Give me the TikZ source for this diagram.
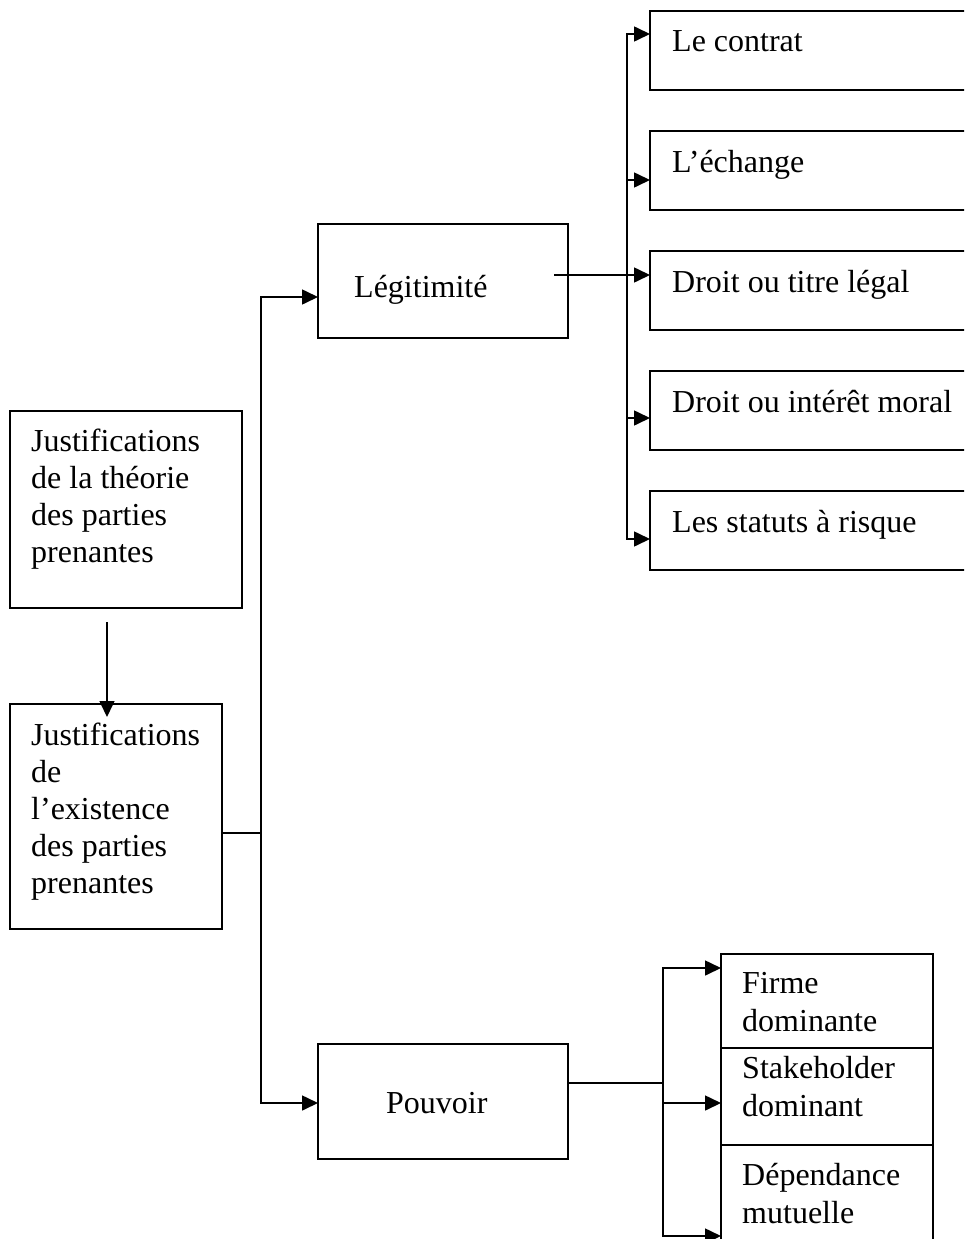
\documentclass[tikz,border=0pt]{standalone}
\usepackage{fontspec}
\setmainfont{Liberation Serif}
\usetikzlibrary{arrows.meta,calc}
\newcommand{\mlines}[1]{\begin{tabular}[t]{@{}l@{}}#1\end{tabular}}
\begin{document}
\begin{tikzpicture}[x=1pt,y=-1pt,
  box/.style={draw, line width=1.5pt, inner sep=0pt, outer sep=0pt, anchor=north west},
  txt/.style={inner sep=0pt, anchor=base west, font=\fontsize{32}{37}\selectfont},
  txtr/.style={inner sep=0pt, anchor=base west, font=\fontsize{32}{38.5}\selectfont},
  conn/.style={line width=1.6pt},
  arr/.style={conn, -{Triangle[length=16pt,width=15pt]}}]
\useasboundingbox (0,0) rectangle (964,1239);
\clip (0,0) rectangle (964,1239);

% left boxes
\node[box, minimum width=232pt, minimum height=197pt] (A) at (10,411) {};
\node[txt] (At) at (31,451) {\mlines{Justifications\\de la théorie\\des parties\\prenantes}};
\node[box, minimum width=212pt, minimum height=225pt] (B) at (10,704) {};
\node[txt] (Bt) at (31,745) {\mlines{Justifications\\de\\l’existence\\des parties\\prenantes}};

% middle boxes
\node[box, minimum width=250pt, minimum height=114pt] (leg) at (318,224) {};
\node[txt] (legt) at (354,297) {Légitimité};
\node[box, minimum width=250pt, minimum height=115pt] (pouv) at (318,1044) {};
\node[txt] (pouvt) at (386,1113) {Pouvoir};

% right top boxes
\node[box, minimum width=340pt, minimum height=79pt] (r1) at (650,11) {};
\node[txt] (r1t) at (672,52) {Le contrat};
\node[box, minimum width=340pt, minimum height=79pt] (r2) at (650,131) {};
\node[txt] (r2t) at (672,172) {L’échange};
\node[box, minimum width=340pt, minimum height=79pt] (r3) at (650,251) {};
\node[txt] (r3t) at (672,292) {Droit ou titre légal};
\node[box, minimum width=340pt, minimum height=79pt] (r4) at (650,371) {};
\node[txt] (r4t) at (672,412) {Droit ou intérêt moral};
\node[box, minimum width=340pt, minimum height=79pt] (r5) at (650,491) {};
\node[txt] (r5t) at (672,532) {Les statuts à risque};

% right bottom stacked boxes
\node[box, minimum width=212pt, minimum height=94pt] (f1) at (721,954) {};
\node[txtr] (f1t) at (742,993) {\mlines{Firme\\dominante}};
\node[box, minimum width=212pt, minimum height=97pt] (f2) at (721,1048) {};
\node[txtr] (f2t) at (742,1078) {\mlines{Stakeholder\\dominant}};
\node[box, minimum width=212pt, minimum height=120pt] (f3) at (721,1145) {};
\node[txtr] (f3t) at (742,1185) {\mlines{Dépendance\\mutuelle}};

% connectors
\draw[arr] ([xshift=97pt,yshift=-14pt]A.south west) -- ([xshift=97pt,yshift=-13pt]B.north west);

\coordinate (tj) at (261,833);
\draw[conn] (B.east |- tj) -- (tj);
\draw[arr] (tj) |- ([yshift=-16pt]leg.west);
\draw[arr] (tj) |- ([yshift=-1.5pt]pouv.west);

\coordinate (lo) at ([shift={(-14pt,6pt)}]leg.east);
\coordinate (bj) at (627,275);
\draw[arr] (lo) -- (lo -| r3.west);
\draw[arr] (bj) |- ([yshift=16.5pt]r1.west);
\draw[arr] (bj) |- ([yshift=-9.5pt]r2.west);
\draw[arr] (bj) |- ([yshift=-7.5pt]r4.west);
\draw[arr] (bj) |- ([yshift=-8.5pt]r5.west);

\coordinate (pj) at (663,1083);
\draw[conn] (pouv.east |- pj) -- (pj);
\draw[arr] (pj) |- ([yshift=33pt]f1.west);
\draw[arr] (pj) |- ([yshift=-6.5pt]f2.west);
\draw[arr] (pj) |- ([yshift=-91pt]f3.north west);
\end{tikzpicture}
\end{document}
